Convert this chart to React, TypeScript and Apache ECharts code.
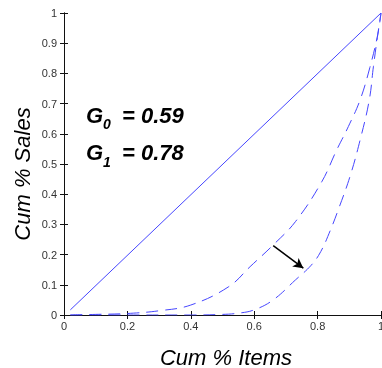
import React, { useEffect, useRef } from "react";
import * as echarts from "echarts";

const equalityX = [0.02, 1];
const equalityY = [0.017, 1];

const g0X = [0.02, 0.1, 0.2, 0.3, 0.4, 0.52, 0.587, 0.66, 0.73, 0.813, 0.86, 0.897, 0.934, 0.965, 0.99, 1];
const g0Y = [0, 0.002, 0.005, 0.014, 0.033, 0.094, 0.16, 0.232, 0.309, 0.441, 0.546, 0.624, 0.712, 0.82, 0.93, 1];

const g1X = [0.02, 0.2, 0.4, 0.5, 0.55, 0.6, 0.66, 0.73, 0.78, 0.81, 0.84, 0.865, 0.902, 0.934, 0.963, 0.976, 0.99, 1];
const g1Y = [0, 0, 0, 0.002, 0.006, 0.017, 0.05, 0.116, 0.165, 0.21, 0.28, 0.348, 0.458, 0.579, 0.712, 0.822, 0.93, 1];

const arrowFrom = [0.66, 0.23];
const arrowTo = [0.755, 0.155];

const giniLabels = [
  { sub: "0", value: "= 0.59" },
  { sub: "1", value: "= 0.78" },
];

const xTitle = "Cum % Items";
const yTitle = "Cum % Sales";

const zip = (xs: number[], ys: number[]) => xs.map((x, i) => [x, ys[i]]);

export default function App() {
  const ref = useRef<HTMLDivElement>(null);
  useEffect(() => {
    if (!ref.current) return;
    const chart = echarts.init(ref.current, undefined, { renderer: "svg" });
    const font = "'Liberation Sans', Arial, sans-serif";
    const axisCommon = {
      type: "value" as const,
      min: 0,
      max: 1,
      interval: 0.1,
      splitLine: { show: false },
      axisLine: { show: true, lineStyle: { color: "#111", width: 1 } },
      axisTick: { show: true, inside: true, length: 4, lineStyle: { color: "#111" } },
    };
    const lineColor = "#4646ff";
    const gText: any[] = [];
    giniLabels.forEach((g, i) => {
      const mid = i === 0 ? 115 : 152.5;
      gText.push({
        type: "text",
        x: 86,
        y: mid,
        style: { text: "G", font: `italic bold 22px ${font}`, fill: "#000", verticalAlign: "middle", align: "left" },
      });
      gText.push({
        type: "text",
        x: 103,
        y: mid + 9,
        style: { text: g.sub, font: `italic bold 14px ${font}`, fill: "#000", verticalAlign: "middle", align: "left" },
      });
      gText.push({
        type: "text",
        x: 122,
        y: mid,
        style: { text: g.value, font: `italic bold 22px ${font}`, fill: "#000", verticalAlign: "middle", align: "left" },
      });
    });
    chart.setOption({
      animation: false,
      grid: { left: 64, top: 13, right: 1, bottom: 53, containLabel: false, outerBoundsMode: "none" },
      xAxis: [
        {
          ...axisCommon,
          interval: 0.2,
          position: "bottom",
          axisLabel: { color: "#333", fontSize: 11, fontFamily: font, margin: 5, showMaxLabel: true },
        },
        {
          ...axisCommon,
          interval: 0.2,
          position: "top",
          axisLabel: { show: false },
        },
      ],
      yAxis: [
        {
          ...axisCommon,
          position: "left",
          axisLabel: { color: "#333", fontSize: 11, fontFamily: font, margin: 7 },
        },
        {
          ...axisCommon,
          position: "right",
          axisLabel: { show: false },
        },
      ],
      series: [
        {
          type: "line",
          data: zip(equalityX, equalityY),
          showSymbol: false,
          lineStyle: { color: lineColor, width: 1 },
          silent: true,
          markLine: {
            silent: true,
            symbol: ["none", "arrow"],
            symbolSize: [8, 10],
            label: { show: false },
            lineStyle: { color: "#000", width: 1.5, type: "solid" },
            data: [[{ coord: arrowFrom }, { coord: arrowTo }]],
          },
        },
        {
          type: "line",
          data: zip(g0X, g0Y),
          showSymbol: false,
          smooth: 0.4,
          lineStyle: { color: lineColor, width: 1, type: [12, 7] },
          silent: true,
        },
        {
          type: "line",
          data: zip(g1X, g1Y),
          showSymbol: false,
          smooth: 0.4,
          lineStyle: { color: lineColor, width: 1, type: [12, 7] },
          silent: true,
        },
      ],
      graphic: [
        ...gText,
        {
          type: "text",
          x: 226,
          y: 357,
          style: { text: xTitle, font: `italic 22px ${font}`, fill: "#000", align: "center", verticalAlign: "middle" },
        },
        {
          type: "text",
          x: 22,
          y: 174,
          rotation: Math.PI / 2,
          style: { text: yTitle, font: `italic 22px ${font}`, fill: "#000", align: "center", verticalAlign: "middle" },
        },
      ],
    });
    return () => chart.dispose();
  }, []);
  return <div ref={ref} style={{ position: "fixed", left: 0, top: 0, width: 382, height: 368 }} />;
}
